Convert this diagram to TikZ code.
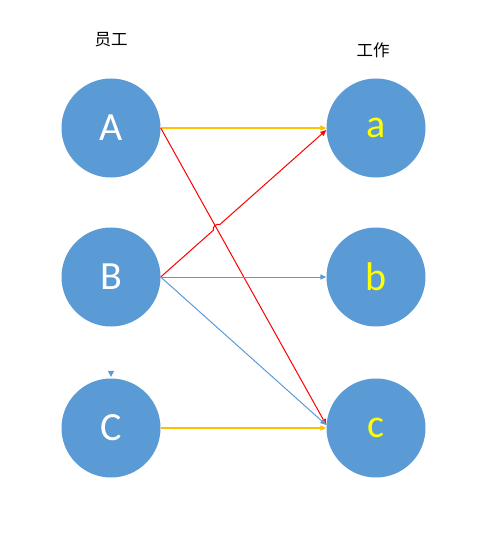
\documentclass[tikz,border=0pt]{standalone}
\usepackage{fontspec}
\setmainfont{Carlito}
\newfontfamily\cjk{Noto Sans CJK SC}
\usetikzlibrary{arrows.meta,calc}
\definecolor{nodeblue}{HTML}{5B9BD5}
\definecolor{lineyellow}{HTML}{FFC000}
\definecolor{linered}{HTML}{FF0000}
\definecolor{labyellow}{HTML}{FFFF00}
\tikzset{
  person/.style={circle,fill=nodeblue,minimum size=99bp,inner sep=0pt,text=white,font=\fontsize{40bp}{40bp}\selectfont},
  job/.style={circle,fill=nodeblue,minimum size=99bp,inner sep=0pt,text=labyellow,font=\fontsize{40bp}{40bp}\selectfont},
  head/.style={font=\cjk\fontsize{16.5bp}{16.5bp}\selectfont,text=black},
  tip/.style={-{Triangle[length=6bp,width=5bp]}},
  yline/.style={tip,draw=lineyellow,line width=1.2bp},
  rline/.style={tip,draw=linered,line width=1bp},
  bline/.style={tip,draw=nodeblue,line width=1bp},
}
\begin{document}
\begin{tikzpicture}[x=1bp,y=-1bp]
\useasboundingbox (0,0) rectangle (478,542);
\node[person] (A) at (111,128) {A};
\node[person] (B) at (111,277) {B};
\node[person] (C) at (111,428) {C};
\node[job] (a) at (376,128) {a};
\node[job] (b) at (376,277) {b};
\node[job] (c) at (376,428) {c};
\node[head] (h1) at (111,40) {员工};
\node[head] (h2) at (373,50) {工作};
% connectors
\draw[yline] (A.east) -- (a.west);
\draw[rline] (A.east) -- ([yshift=3bp]c.west);
\coordinate (p1) at ($(B.east)!0.318!([yshift=-2bp]a.west)$);
\coordinate (p2) at ($(B.east)!0.356!([yshift=-2bp]a.west)$);
\draw[rline] (B.east) -- (p1) to[bend left=80] (p2) -- ([yshift=-2bp]a.west);
\draw[bline] (B.east) -- (b.west);
\draw[bline] (B.east) -- ([yshift=3bp]c.west);
\draw[yline] (C.east) -- (c.west);
% small marker above C
\coordinate (m) at ($(C.north)+(0,-1.5)$);
\fill[nodeblue] (m) -- ++(-3.2,-6) -- ++(6.4,0) -- cycle;
\end{tikzpicture}
\end{document}
